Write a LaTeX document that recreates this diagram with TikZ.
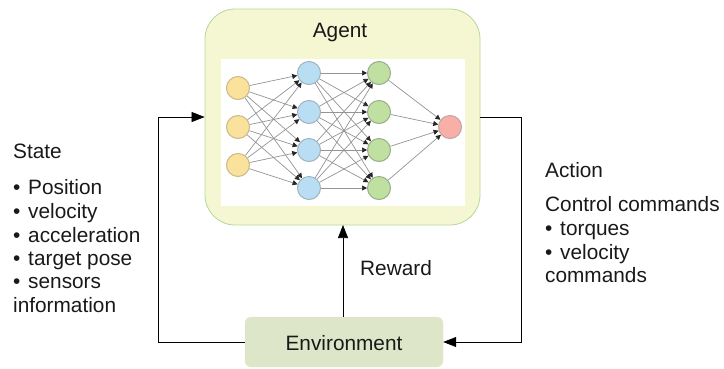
\documentclass[tikz,border=0pt]{standalone}
\usepackage{fontspec}
\setmainfont{Liberation Sans}
\usetikzlibrary{arrows.meta}
\definecolor{agentfill}{HTML}{F5F7D2}
\definecolor{agentline}{HTML}{B5D79A}
\definecolor{envfill}{HTML}{DDE6C8}
\definecolor{envline}{HTML}{E6EDC6}
\definecolor{yelfill}{HTML}{FBE29C}
\definecolor{yelline}{HTML}{C9B98A}
\definecolor{blufill}{HTML}{B9DEF3}
\definecolor{bluline}{HTML}{9DB4BE}
\definecolor{grnfill}{HTML}{BFE0A0}
\definecolor{grnline}{HTML}{97AE88}
\definecolor{redfill}{HTML}{F9AFA8}
\definecolor{redline}{HTML}{BDA5A2}
\newcommand{\bul}{•\hspace{2pt} }
\begin{document}
\begin{tikzpicture}[x=1pt,y=-1pt,
  txt/.style={inner sep=0pt,text=black!90,font=\fontsize{20.8}{24}\selectfont},
  lbl/.style={txt,anchor=base west,align=left},
  neuron/.style={circle,draw,line width=1pt,minimum size=23pt,inner sep=0pt},
  yel/.style={neuron,fill=yelfill,draw=yelline},
  blu/.style={neuron,fill=blufill,draw=bluline},
  grn/.style={neuron,fill=grnfill,draw=grnline},
  rd/.style={neuron,fill=redfill,draw=redline},
  syn/.style={draw=black!42,line width=0.7pt,-{Triangle[length=5pt,width=5pt,color=black!85]}},
  flow/.style={draw=black,line width=0.7pt},
  flowa/.style={flow,-{Triangle[length=13pt,width=10pt]}}]
\useasboundingbox (0,0) rectangle (724,368);
\node[draw=agentline,fill=agentfill,rounded corners=30pt,line width=0.8pt,minimum width=275pt,minimum height=216pt,inner sep=0pt] (agent) at (342.5,117) {};
\node[fill=white,minimum width=244pt,minimum height=147pt,inner sep=0pt] (img) at (343,132.5) {};
\node[txt] (agentlbl) at (340,32) {Agent};
\node[draw=envline,fill=envfill,rounded corners=6pt,minimum width=198pt,minimum height=50pt,inner sep=0pt] (env) at (344,342) {};
\node[txt] (envlbl) at (344,343) {Environment};
\foreach \n/\y in {1/88,2/127,3/165} \node[yel] (a\n) at (238,\y) {};
\foreach \n/\y in {1/73,2/112,3/150,4/188} {
  \node[blu] (b\n) at (309,\y) {};
  \node[grn] (c\n) at (379,\y) {};
}
\node[rd] (d) at (450,127) {};
\foreach \i in {1,2,3} \foreach \j in {1,2,3,4} \draw[syn] (a\i) -- (b\j);
\foreach \i in {1,2,3,4} \foreach \j in {1,2,3,4} \draw[syn] (b\i) -- (c\j);
\foreach \i in {1,2,3,4} \draw[syn] (c\i) -- (d);
\coordinate (lft) at (158.5,117);
\coordinate (rgt) at (521,117);
\draw[flowa] (env.west) -| (lft) -- (agent.west |- lft);
\draw[flowa] (agent.east |- rgt) -- (rgt) |- (env.east);
\draw[flowa] (343,317) -- (343,225);
\node[lbl] (reward) at (360,275) {Reward};
\node[lbl] (state) at (13,158) {State};
\node[lbl] (s1) at (13,194) {\bul Position};
\node[lbl] (s2) at (13,218) {\bul velocity};
\node[lbl] (s3) at (13,242) {\bul acceleration};
\node[lbl] (s4) at (13,265) {\bul target pose};
\node[lbl] (s5) at (13,288) {\bul sensors};
\node[lbl] (s6) at (13,312) {information};
\node[lbl] (action) at (545,177) {Action};
\node[lbl] (a0) at (545,211) {Control commands};
\node[lbl] (a1) at (545,235) {\bul torques};
\node[lbl] (a2) at (545,259) {\bul velocity};
\node[lbl] (a3) at (545,282) {commands};
\end{tikzpicture}
\end{document}
